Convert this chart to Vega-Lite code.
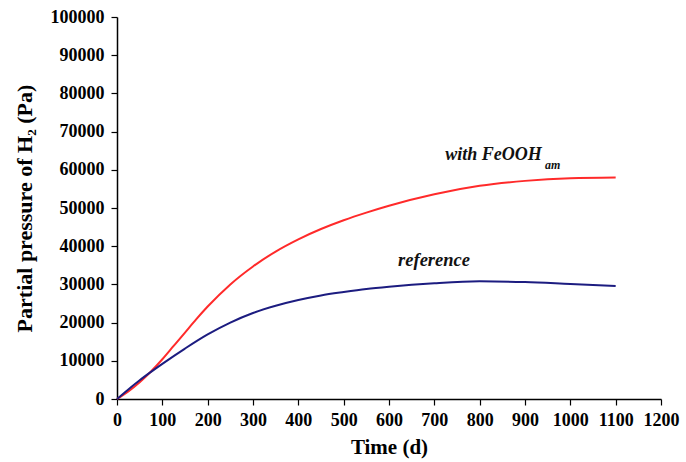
{
  "$schema": "https://vega.github.io/schema/vega-lite/v6.json",
  "autosize": {"type": "none"},
  "width": 544,
  "height": 382,
  "padding": {"left": 117, "top": 17, "right": 25, "bottom": 63},
  "background": "white",
  "config": {
    "view": {"stroke": null},
    "font": "Liberation Serif",
    "axis": {
      "grid": false,
      "domainColor": "black",
      "domainWidth": 1.5,
      "tickColor": "black",
      "tickWidth": 1.2,
      "tickSize": 6,
      "labelFont": "Liberation Serif",
      "labelFontWeight": "bold",
      "labelFontSize": 18,
      "labelColor": "black",
      "labelOverlap": false,
      "titleFont": "Liberation Serif",
      "titleFontWeight": "bold",
      "titleColor": "black"
    }
  },
  "datasets": {
    "curves": [
      {"t": 0, "p": 0, "series": "with FeOOH"},
      {"t": 25, "p": 2000, "series": "with FeOOH"},
      {"t": 50, "p": 4400, "series": "with FeOOH"},
      {"t": 75, "p": 7200, "series": "with FeOOH"},
      {"t": 100, "p": 10400, "series": "with FeOOH"},
      {"t": 125, "p": 13900, "series": "with FeOOH"},
      {"t": 150, "p": 17400, "series": "with FeOOH"},
      {"t": 175, "p": 20900, "series": "with FeOOH"},
      {"t": 200, "p": 24200, "series": "with FeOOH"},
      {"t": 250, "p": 30000, "series": "with FeOOH"},
      {"t": 300, "p": 34700, "series": "with FeOOH"},
      {"t": 350, "p": 38600, "series": "with FeOOH"},
      {"t": 400, "p": 41800, "series": "with FeOOH"},
      {"t": 450, "p": 44500, "series": "with FeOOH"},
      {"t": 500, "p": 46800, "series": "with FeOOH"},
      {"t": 550, "p": 48800, "series": "with FeOOH"},
      {"t": 600, "p": 50600, "series": "with FeOOH"},
      {"t": 700, "p": 53600, "series": "with FeOOH"},
      {"t": 800, "p": 55800, "series": "with FeOOH"},
      {"t": 900, "p": 57100, "series": "with FeOOH"},
      {"t": 1000, "p": 57800, "series": "with FeOOH"},
      {"t": 1100, "p": 58000, "series": "with FeOOH"},
      {"t": 0, "p": 0, "series": "reference"},
      {"t": 25, "p": 2500, "series": "reference"},
      {"t": 50, "p": 4900, "series": "reference"},
      {"t": 75, "p": 7100, "series": "reference"},
      {"t": 100, "p": 9200, "series": "reference"},
      {"t": 150, "p": 13200, "series": "reference"},
      {"t": 200, "p": 16900, "series": "reference"},
      {"t": 250, "p": 20000, "series": "reference"},
      {"t": 300, "p": 22500, "series": "reference"},
      {"t": 350, "p": 24400, "series": "reference"},
      {"t": 400, "p": 25900, "series": "reference"},
      {"t": 450, "p": 27100, "series": "reference"},
      {"t": 500, "p": 28000, "series": "reference"},
      {"t": 550, "p": 28800, "series": "reference"},
      {"t": 600, "p": 29400, "series": "reference"},
      {"t": 700, "p": 30300, "series": "reference"},
      {"t": 800, "p": 30800, "series": "reference"},
      {"t": 900, "p": 30600, "series": "reference"},
      {"t": 1000, "p": 30100, "series": "reference"},
      {"t": 1100, "p": 29600, "series": "reference"}
    ],
    "labels": [
      {"t": 724, "p": 63900, "text": "with FeOOH", "size": 18},
      {"t": 620, "p": 36300, "text": "reference", "size": 18.5},
      {"t": 944, "p": 61200, "text": "am", "size": 12}
    ]
  },
  "encoding": {
    "x": {
      "field": "t", "type": "quantitative",
      "scale": {"domain": [0, 1200], "nice": false},
      "axis": {"values": [0,100,200,300,400,500,600,700,800,900,1000,1100,1200], "format": "d", "title": "Time (d)", "titleFontSize": 21, "titlePadding": 7, "labelPadding": 6, "labelFlush": false, "labelOverlap": false, "labelFont": "Liberation Serif"}
    },
    "y": {
      "field": "p", "type": "quantitative",
      "scale": {"domain": [0, 100000], "nice": false},
      "axis": {"values": [0,10000,20000,30000,40000,50000,60000,70000,80000,90000,100000], "format": "d", "title": "Partial pressure of H₂ (Pa)", "titleFontSize": 22, "titlePadding": 14, "labelPadding": 7, "labelOverlap": false, "labelFont": "Liberation Serif"}
    }
  },
  "layer": [
    {
      "data": {"name": "curves"},
      "mark": {"type": "line", "strokeWidth": 2, "interpolate": "monotone"},
      "encoding": {
        "color": {
          "field": "series", "type": "nominal",
          "scale": {"domain": ["with FeOOH", "reference"], "range": ["#ff2a2a", "#1c1c80"]},
          "legend": null
        }
      }
    },
    {
      "data": {"name": "labels"},
      "mark": {"type": "text", "align": "left", "baseline": "middle", "fontStyle": "italic", "fontWeight": "bold", "font": "Liberation Serif", "color": "#111111"},
      "encoding": {
        "text": {"field": "text"},
        "size": {"field": "size", "type": "quantitative", "scale": null}
      }
    }
  ]
}
